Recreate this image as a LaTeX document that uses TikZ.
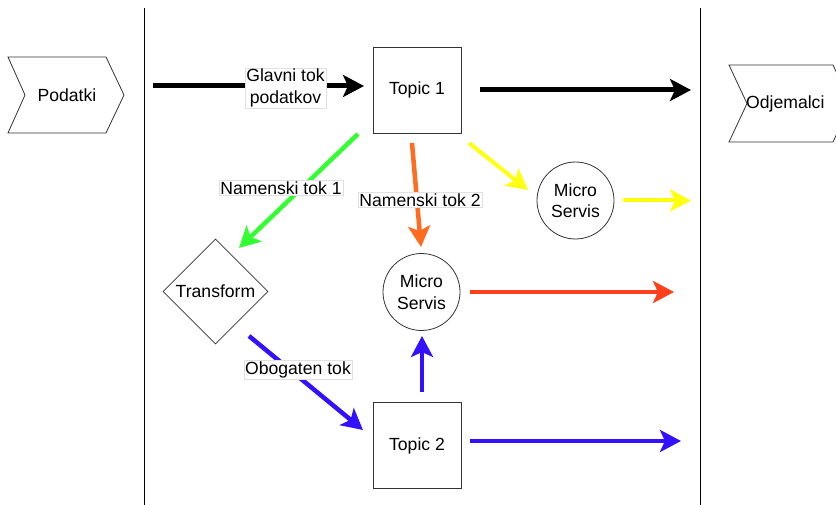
\documentclass[tikz,border=0pt]{standalone}
\usepackage{fontspec}
\setmainfont{Liberation Sans}
\usetikzlibrary{arrows.meta,shapes.geometric}
\definecolor{flowgreen}{HTML}{33FF33}
\definecolor{floworange}{HTML}{FF6B1F}
\definecolor{flowyellow}{HTML}{FFFF10}
\definecolor{flowred}{HTML}{FF401A}
\definecolor{flowblue}{HTML}{3311FF}
\begin{document}
\begin{tikzpicture}[x=1pt,y=-1pt,
  every node/.style={font=\fontsize{17.6}{21.5}\selectfont},
  shapeline/.style={draw=black!80, line width=0.8pt},
  topicbox/.style={shapeline, minimum width=88pt, minimum height=86pt, inner sep=0pt},
  servis/.style={shapeline, circle, minimum size=77pt, inner sep=0pt, align=center},
  decision/.style={shapeline, diamond, minimum width=105pt, minimum height=105pt, inner sep=0pt, aspect=1},
  tag/.style={fill=white, draw=black!12, line width=0.6pt, inner sep=1.2pt, align=center},
  flow/.style={line width=4.5pt, -{Stealth[length=21pt,width=22pt,inset=5pt]}},
  mainflow/.style={flow, line width=5pt, black},
  divider/.style={draw=black, line width=0.8pt}]
\useasboundingbox (0,0) rectangle (836,505);

% zone dividers
\draw[divider] (144,8) -- (144,505);
\draw[divider] (700,8) -- (700,505);

% source and sink chevrons
\draw[shapeline, fill=white] (8,57) -- (106,57) -- (124,95) -- (106,133) -- (8,133) -- (25,95) -- cycle;
\node (podatki) at (67,95) {Podatki};
\draw[shapeline, fill=white] (729,65) -- (833,65) -- (851,103.5) -- (833,142) -- (729,142) -- (747,103.5) -- cycle;
\node[anchor=west, inner sep=0pt] (odjemalci) at (746,104) {Odjemalci};

% main nodes
\node[topicbox] (topic1) at (417,90) {Topic 1};
\node[topicbox] (topic2) at (417,445.5) {Topic 2};
\node[servis] (ms1) at (575.5,200.5) {Micro\\Servis};
\node[servis] (ms2) at (421.5,292) {Micro\\Servis};
\node[decision] (transform) at (215.5,291.5) {Transform};

% connector end points
\coordinate (inStart) at (153,86);
\coordinate (inEnd) at (364,86);
\coordinate (outStart) at (480,90);
\coordinate (outEnd) at (691,90);
\coordinate (gStart) at (358,134);
\coordinate (gEnd) at (239,248);
\coordinate (oStart) at (412,143);
\coordinate (oEnd) at (421,247);
\coordinate (yStart) at (469,143);
\coordinate (yEnd) at (528,190);
\coordinate (yOutStart) at (623,200.5);
\coordinate (yOutEnd) at (691,200.5);
\coordinate (rStart) at (470,292);
\coordinate (rEnd) at (674,292);
\coordinate (bStart) at (249,336);
\coordinate (bEnd) at (363,430);
\coordinate (bUpStart) at (422,392);
\coordinate (bUpEnd) at (422,336);
\coordinate (bOutStart) at (470,441);
\coordinate (bOutEnd) at (681,441);

% flows
\draw[mainflow] (inStart) -- (inEnd);
\node[tag] (glavni) at (285.5,88) {Glavni tok\\podatkov};
\draw[mainflow] (outStart) -- (outEnd);

\draw[flow, flowgreen] (gStart) -- (gEnd);
\node[tag] (nt1) at (281,188) {Namenski tok 1};
\draw[flow, floworange] (oStart) -- (oEnd);
\node[tag] (nt2) at (420,200) {Namenski tok 2};
\draw[flow, flowyellow, line width=4pt] (yStart) -- (yEnd);
\draw[flow, flowyellow, line width=4pt] (yOutStart) -- (yOutEnd);
\draw[flow, flowred] (rStart) -- (rEnd);

\draw[flow, flowblue] (bStart) -- (bEnd);
\node[tag] (obogaten) at (298,370) {Obogaten tok};
\draw[flow, flowblue] (bUpStart) -- (bUpEnd);
\draw[flow, flowblue] (bOutStart) -- (bOutEnd);
\end{tikzpicture}
\end{document}
